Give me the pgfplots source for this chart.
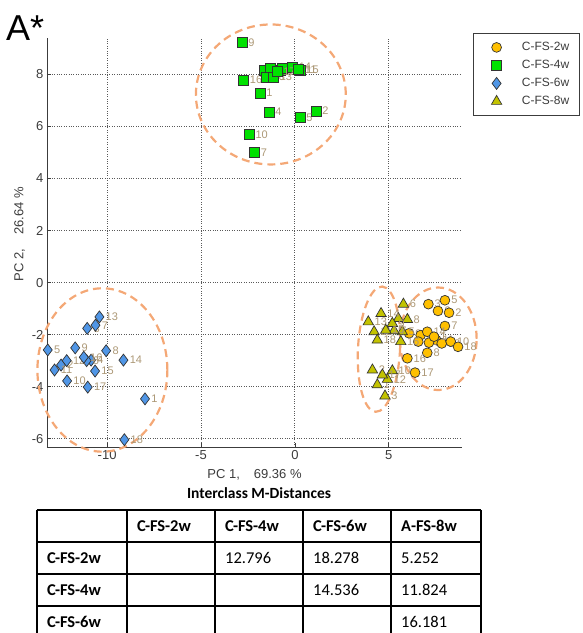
\documentclass[border=0pt]{standalone}
\usepackage{pgfplots}
\usepackage{pgfplotstable}
\pgfplotsset{compat=1.18}
\usepackage{fontspec}
\setmainfont{Liberation Sans}
\newfontfamily\calibri{Carlito}

\definecolor{c2w}{RGB}{255,192,0}
\definecolor{c4w}{RGB}{0,225,0}
\definecolor{c6w}{RGB}{80,150,230}
\definecolor{c8w}{RGB}{195,195,0}
\definecolor{ell}{RGB}{244,168,118}
\definecolor{lab}{RGB}{172,152,118}
\definecolor{axgray}{RGB}{60,60,60}

% a single centred marker as legend sample
\pgfplotsset{onemark/.style={legend image code/.code={%
  \path (-13pt,0pt) (13pt,0pt); \draw[##1] plot coordinates {(0pt,0pt)};}}}

% PCA scores: x = PC 1, y = PC 2, lab = sample number
\pgfplotstableread{
x y lab
7.11 -0.83 3
7.99 -0.68 5
7.62 -1.09 6
8.21 -1.16 2
7.99 -1.67 7
6.08 -1.95 9
6.70 -2.02 4
7.05 -1.89 14
7.53 -2.21 11
6.57 -2.27 12
7.14 -2.31 15
7.82 -2.34 13
8.30 -2.27 10
8.69 -2.47 18
7.05 -2.70 8
5.99 -2.91 16
6.40 -3.46 17
7.41 -2.08 1
}\twoweeks

\pgfplotstableread{
x y lab
-2.82 9.22 9
-2.73 7.78 16
-1.86 7.29 1
-1.37 6.55 4
1.12 6.59 2
0.28 6.35 5
-2.43 5.68 10
-2.15 4.99 7
-1.62 8.16 6
-1.33 8.22 12
-1.51 7.90 18
-1.14 7.90 13
-0.80 8.16 8
-0.66 8.22 3
-0.13 8.29 14
0.28 8.16 15
-0.95 8.10 17
0.20 8.20 11
}\fourweeks

\pgfplotstableread{
x y lab
-7.98 -4.47 1
-12.45 -3.17 2
-11.06 -1.76 3
-10.85 -2.98 4
-13.16 -2.59 5
-11.09 -3.00 6
-10.62 -1.64 7
-10.05 -2.62 8
-11.70 -2.51 9
-12.13 -3.78 10
-12.80 -3.36 11
-12.15 -3.00 12
-10.41 -1.32 13
-9.13 -2.98 14
-10.64 -3.40 15
-11.24 -2.87 16
-11.03 -4.02 17
-9.08 -6.04 18
}\sixweeks

\pgfplotstableread{
x y lab
4.39 -3.93 1
4.13 -3.36 2
4.80 -4.36 3
5.51 -1.38 4
5.72 -1.89 5
5.78 -0.83 6
5.28 -1.85 7
5.99 -1.42 8
5.19 -1.57 9
5.19 -3.39 10
4.22 -1.89 11
4.93 -3.72 12
3.91 -1.51 13
4.59 -1.19 14
4.84 -1.83 15
5.64 -2.27 16
4.66 -3.55 17
4.39 -2.21 18
}\eightweeks

\begin{document}
\begin{tikzpicture}[x=1pt,y=1pt]

\begin{axis}[
  width=415pt, height=409pt, scale only axis,
  xmin=-13.2, xmax=8.9, ymin=-6.32, ymax=9.4,
  clip=false,
  axis x line*=bottom, axis y line*=left,
  axis line style={-, axgray, line width=0.9pt},
  xtick={-10,-5,0,5}, ytick={-6,-4,-2,0,2,4,6,8},
  tick align=inside, major tick length=4pt,
  tick style={axgray, line width=0.6pt},
  xmajorgrids, ymajorgrids,
  grid style={dotted, black!65, line width=0.8pt},
  /pgf/number format/assume math mode=true,
  ticklabel style={font=\fontsize{13}{13}\selectfont, text=axgray},
  xlabel={PC 1,\hspace{14pt}69.36 \%},
  ylabel={PC 2,\hspace{14pt}26.64 \%},
  label style={font=\fontsize{13}{13}\selectfont, text=axgray},
  xlabel style={at={(axis description cs:0.5,-0.068)}, anchor=center},
  ylabel style={at={(axis description cs:-0.066,0.52)}, anchor=center},
  legend style={at={(axis description cs:1.0265,1.012)}, anchor=north west,
    draw=axgray, line width=0.6pt, fill=white,
    inner xsep=10pt, inner ysep=5pt, row sep=0pt, column sep=12pt,
    font=\fontsize{12}{12}\selectfont, text=axgray,
    nodes={inner sep=0pt, minimum height=18pt}},
  legend cell align=left,
  point meta=explicit symbolic,
  nodes near coords,
  every node near coord/.append style={anchor=west, xshift=6pt, inner sep=0pt,
    font=\fontsize{11}{11}\selectfont, text=lab},
]

\addplot[only marks, mark=*, mark size=4.9pt,
  mark options={draw=black!80, line width=0.7pt, fill=c2w}, onemark]
  table[x=x, y=y, meta=lab] {\twoweeks};
\addlegendentry{C-FS-2w}

\addplot[only marks, mark=square*, mark size=5pt,
  mark options={draw=black!80, line width=0.7pt, fill=c4w}, onemark]
  table[x=x, y=y, meta=lab] {\fourweeks};
\addlegendentry{C-FS-4w}

\addplot[only marks, mark=diamond*, mark size=6pt,
  mark options={draw=black!80, line width=0.7pt, fill=c6w}, onemark]
  table[x=x, y=y, meta=lab] {\sixweeks};
\addlegendentry{C-FS-6w}

\addplot[only marks, mark=triangle*, mark size=6pt,
  mark options={draw=black!80, line width=0.7pt, fill=c8w}, onemark]
  table[x=x, y=y, meta=lab] {\eightweeks};
\addlegendentry{C-FS-8w}

% group outlines
\draw[ell, line width=2.2pt, dash pattern=on 8pt off 5pt]
  (axis cs:-1.28,7.23) ellipse [x radius=3.99, y radius=2.69];
\draw[ell, line width=2.2pt, dash pattern=on 8pt off 5pt]
  (axis cs:-10.25,-3.36) ellipse [x radius=3.46, y radius=3.14];
\draw[ell, line width=2.2pt, dash pattern=on 8pt off 5pt]
  (axis cs:4.48,-2.56) ellipse [x radius=1.12, y radius=2.41, rotate=-3];
\draw[ell, line width=2.2pt, dash pattern=on 8pt off 5pt]
  (axis cs:7.63,-2.16) ellipse [x radius=2.05, y radius=1.97];

% lower left corner of the plot box
\coordinate (O) at (axis description cs:0,0);
\end{axis}

% everything else in page coordinates (pt from the lower left page corner);
% the plot box's lower left corner sits at (47,186)
\begin{scope}[shift={(O)}, xshift=-47pt, yshift=-186pt]
\node[anchor=west, inner sep=0pt, font=\fontsize{36}{36}\selectfont] at (6,605) {A*};

% distance table
\node[font=\calibri\bfseries\fontsize{15.5}{15.5}\selectfont] at (259,140) {Interclass M-Distances};
\begin{scope}[line width=1.8pt]
  \draw (37,123) -- (481,123);
  \foreach \r in {91,59,27} {\draw (37,\r) -- (481,\r);}
  \foreach \c in {37,127,215,303,391,481} {\draw (\c,123) -- (\c,-10);}
\end{scope}
\begin{scope}[every node/.style={anchor=west, inner sep=0pt, font=\calibri\fontsize{16.5}{16.5}\selectfont}]
  \node[font=\calibri\bfseries\fontsize{16.5}{16.5}\selectfont] at (137,107) {C-FS-2w};
  \node[font=\calibri\bfseries\fontsize{16.5}{16.5}\selectfont] at (225,107) {C-FS-4w};
  \node[font=\calibri\bfseries\fontsize{16.5}{16.5}\selectfont] at (313,107) {C-FS-6w};
  \node[font=\calibri\bfseries\fontsize{16.5}{16.5}\selectfont] at (401,107) {A-FS-8w};
  \node[font=\calibri\bfseries\fontsize{16.5}{16.5}\selectfont] at (47,75) {C-FS-2w};
  \node[font=\calibri\bfseries\fontsize{16.5}{16.5}\selectfont] at (47,43) {C-FS-4w};
  \node[font=\calibri\bfseries\fontsize{16.5}{16.5}\selectfont] at (47,11) {C-FS-6w};
  \node at (225,75) {12.796};
  \node at (313,75) {18.278};
  \node at (401,75) {5.252};
  \node at (313,43) {14.536};
  \node at (401,43) {11.824};
  \node at (401,11) {16.181};
\end{scope}

% the page is the full figure area; the last table row runs past its bottom edge
\pgfresetboundingbox
\useasboundingbox (0,0) rectangle (583,633);
\end{scope}
\end{tikzpicture}
\end{document}
